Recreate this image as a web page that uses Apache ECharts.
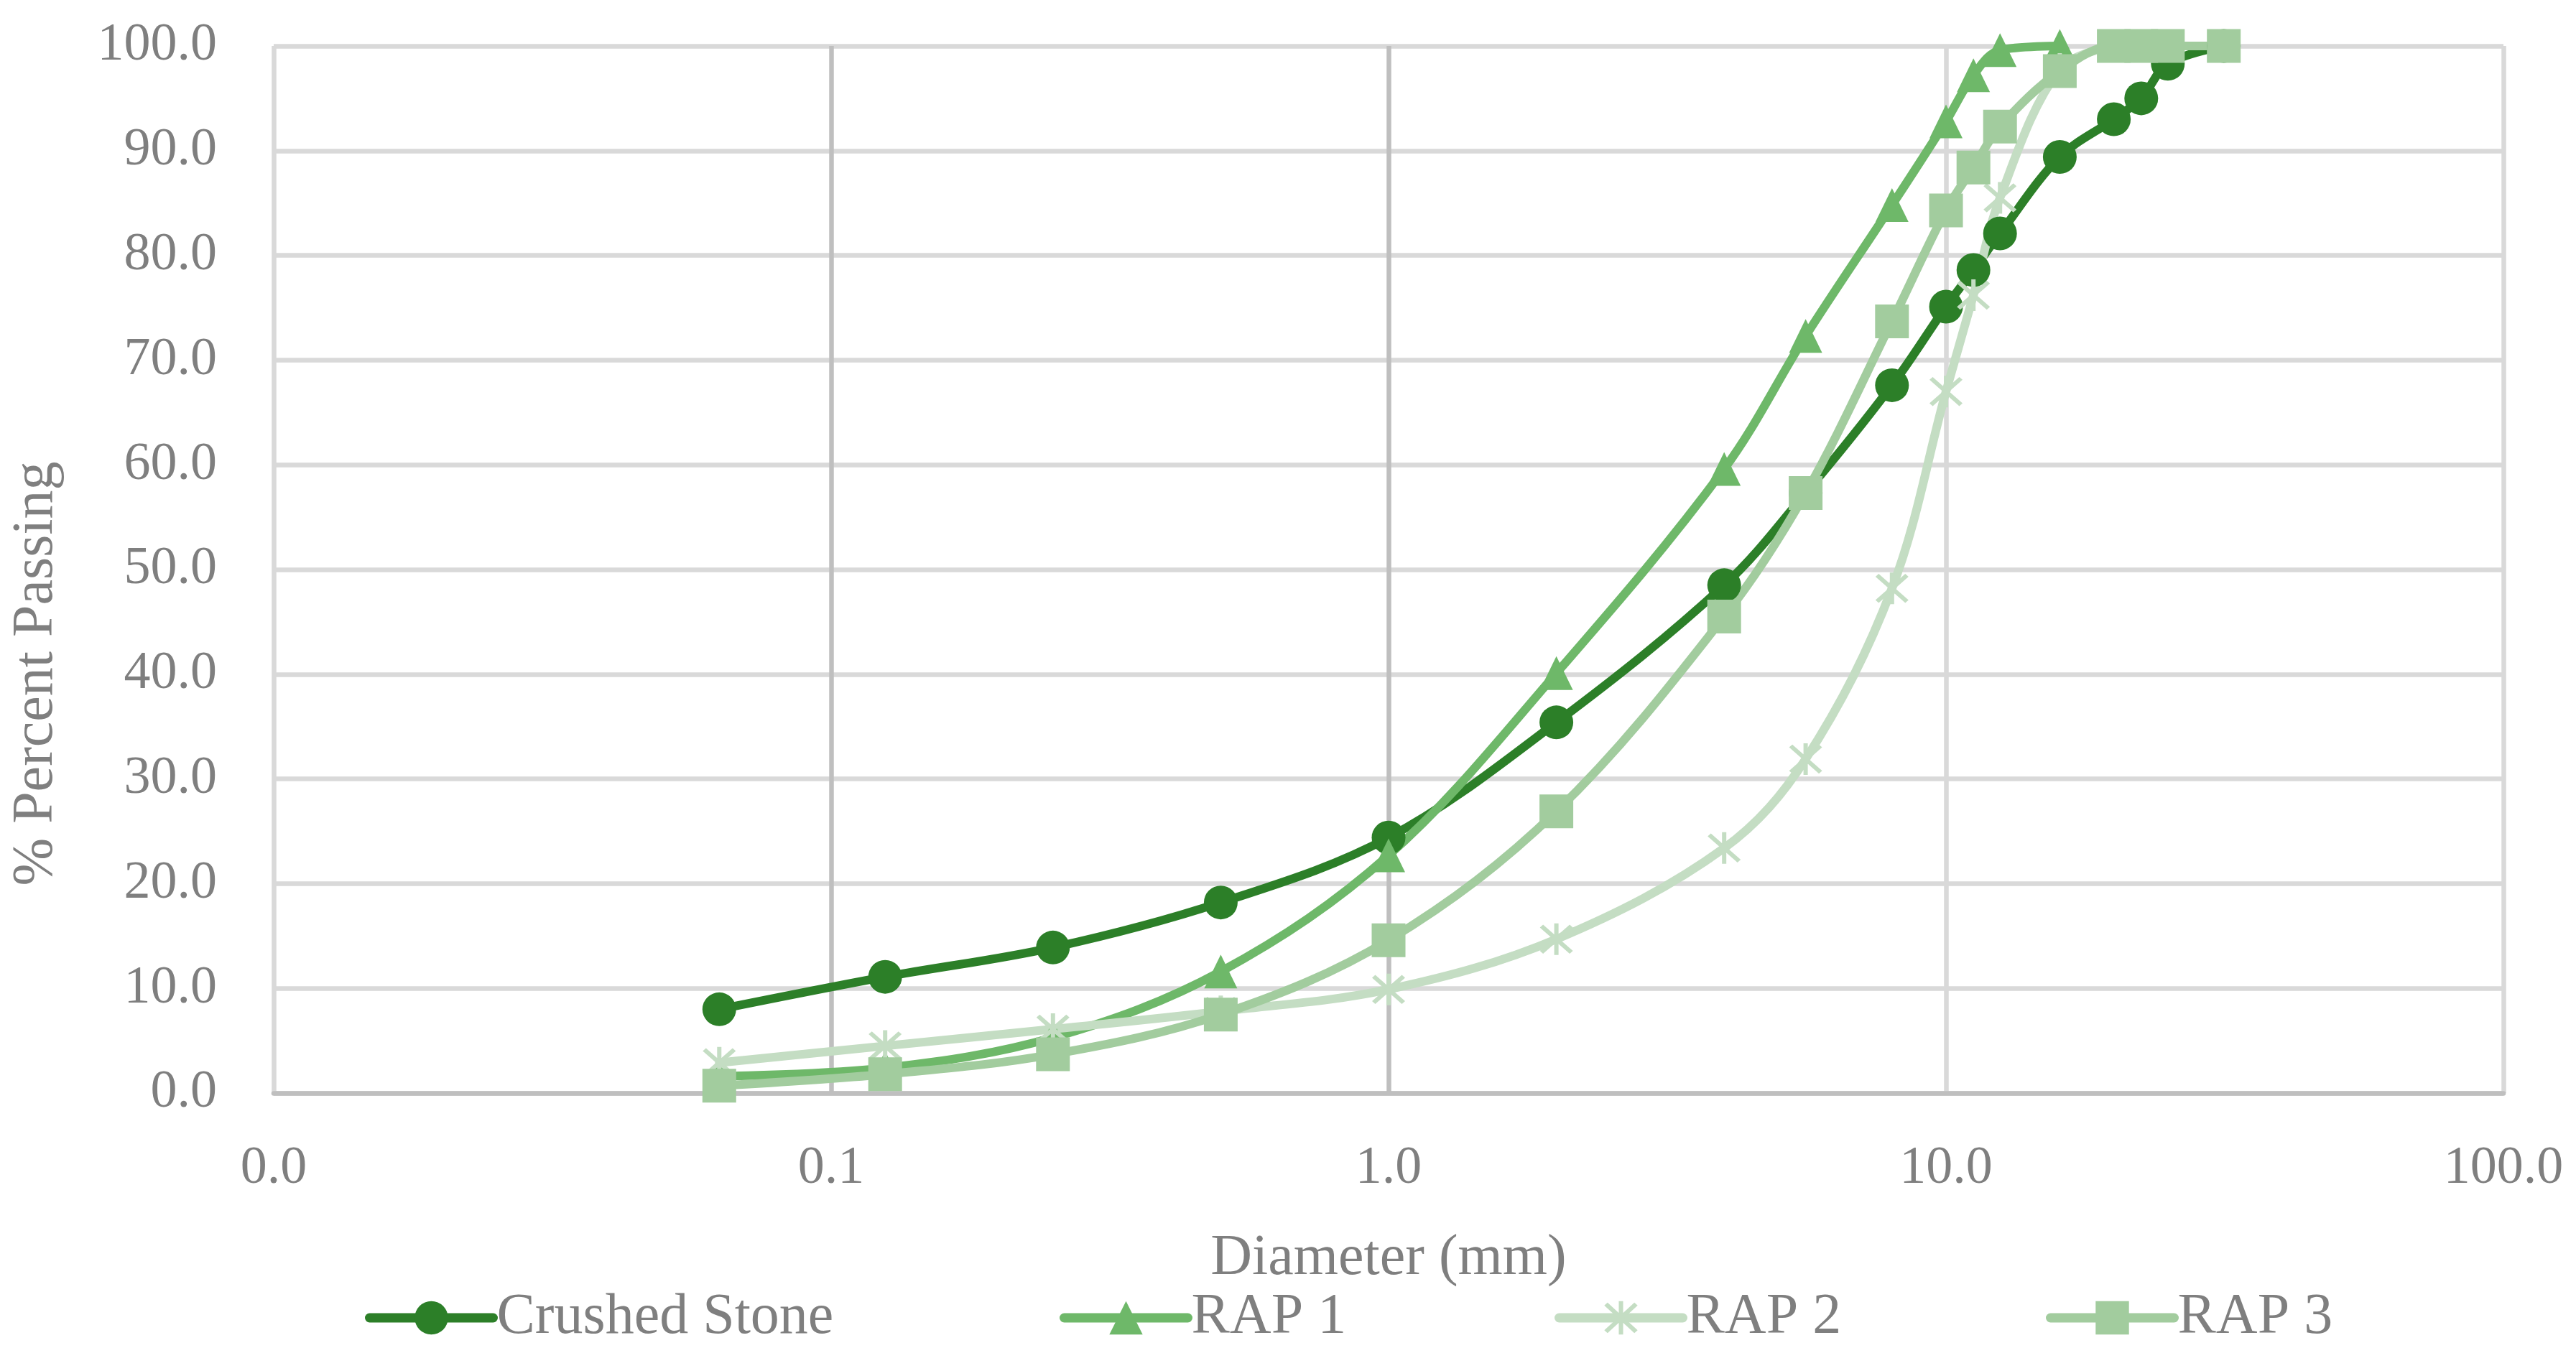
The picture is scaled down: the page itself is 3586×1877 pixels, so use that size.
<!DOCTYPE html>
<html>
<head>
<meta charset="utf-8">
<script src="https://cdn.jsdelivr.net/npm/echarts@6/dist/echarts.min.js"></script>
<style>
  html, body { margin: 0; padding: 0; background: #ffffff; }
  #chart { width: 3586px; height: 1877px; }
</style>
</head>
<body>
<div id="chart"></div>
<script>
// ---- data (sieve diameters in mm, % passing) ----
const sieveSizes = [0.063, 0.125, 0.25, 0.5, 1, 2, 4, 5.6, 8, 10, 11.2, 12.5, 16, 20, 22.4, 25, 31.5];
const crushedStone = [8.0, 11.1, 13.9, 18.2, 24.4, 35.4, 48.5, 57.3, 67.6, 75.1, 78.6, 82.1, 89.4, 93.0, 95.0, 98.3, 100.0];
const rap1 = [1.6, 2.4, 5.3, 11.6, 22.7, 40.1, 59.6, 72.3, 84.8, 92.8, 97.2, 99.6, 100.0];
const rap2 = [2.9, 4.5, 6.1, 7.8, 9.9, 14.7, 23.4, 31.9, 48.2, 67.0, 76.2, 85.5, 97.8, 100.0];
const rap3 = [0.7, 1.8, 3.7, 7.5, 14.6, 26.9, 45.5, 57.3, 73.7, 84.3, 88.4, 92.3, 97.6, 100.0, 100.0, 100.0, 100.0];
const seriesNames = ['Crushed Stone', 'RAP 1', 'RAP 2', 'RAP 3'];
const xTicks = [0.01, 0.1, 1, 10, 100];
const yTicks = [0, 10, 20, 30, 40, 50, 60, 70, 80, 90, 100];

// ---- styles ----
const FONT = "'Liberation Serif', 'Times New Roman', serif";
const TEXT_COLOR = '#7f7f7f';
const colors = ['#2c7f28', '#6eb869', '#c4ddc3', '#a2cc9e'];
const starPath = 'path://M44,0 L56,0 L56,100 L44,100 Z M4,13 L13,4 L96,87 L87,96 Z M87,4 L96,13 L13,96 L4,87 Z';
const symbols = ['circle', 'triangle', starPath, 'rect'];
const symbolSizes = [47, [46, 47], [46, 44], 47];

function pairs(values) {
  return values.map((v, i) => [sieveSizes[i], v]);
}
const seriesValues = [crushedStone, rap1, rap2, rap3];

const chart = echarts.init(document.getElementById('chart'), null, { renderer: 'canvas' });

const legendLefts = [503, 1470, 2159, 2843];

const option = {
  animation: false,
  backgroundColor: '#ffffff',
  grid: { left: 381, right: 101, top: 64, bottom: 355, containLabel: false },
  legend: seriesNames.map((name, i) => ({
    data: [name],
    left: legendLefts[i],
    top: 1790,
    itemWidth: 172,
    itemHeight: 58,
    lineStyle: { width: 13, cap: 'round' },
    textStyle: { fontFamily: FONT, fontSize: 80, color: TEXT_COLOR },
    selectedMode: false
  })),
  xAxis: {
    type: 'log',
    logBase: 10,
    min: xTicks[0],
    max: xTicks[xTicks.length - 1],
    name: 'Diameter (mm)',
    nameLocation: 'middle',
    nameGap: 191,
    nameTextStyle: { fontFamily: FONT, fontSize: 80, color: TEXT_COLOR },
    axisLine: { show: true, lineStyle: { color: '#bfbfbf', width: 6.5 } },
    axisTick: { show: false },
    axisLabel: {
      fontFamily: FONT, fontSize: 74, color: TEXT_COLOR, margin: 69,
      formatter: v => Number(v).toFixed(1)
    },
    splitLine: {
      show: true,
      lineStyle: { color: ['#d9d9d9', '#bfbfbf', '#bfbfbf', '#d9d9d9', '#d9d9d9'], width: 6.5 }
    }
  },
  yAxis: {
    type: 'value',
    min: yTicks[0],
    max: yTicks[yTicks.length - 1],
    interval: 10,
    name: '% Percent Passing',
    nameLocation: 'middle',
    nameGap: 290,
    nameTextStyle: { fontFamily: FONT, fontSize: 80, color: TEXT_COLOR, padding: [0, 290, 0, 0] },
    axisLine: { show: false },
    axisTick: { show: false },
    axisLabel: {
      fontFamily: FONT, fontSize: 74, color: TEXT_COLOR, margin: 79,
      formatter: v => Number(v).toFixed(1)
    },
    splitLine: { show: true, lineStyle: { color: '#d9d9d9', width: 6.5 } }
  },
  series: seriesNames.map((name, i) => ({
    name: name,
    type: 'line',
    data: pairs(seriesValues[i]),
    smooth: 0.35,
    symbol: symbols[i],
    symbolSize: symbolSizes[i],
    showAllSymbol: true,
    lineStyle: { color: colors[i], width: 12, cap: 'round', join: 'round' },
    itemStyle: { color: colors[i], borderWidth: 0 },
    emphasis: { disabled: true }
  }))
};

chart.setOption(option);
</script>
</body>
</html>
